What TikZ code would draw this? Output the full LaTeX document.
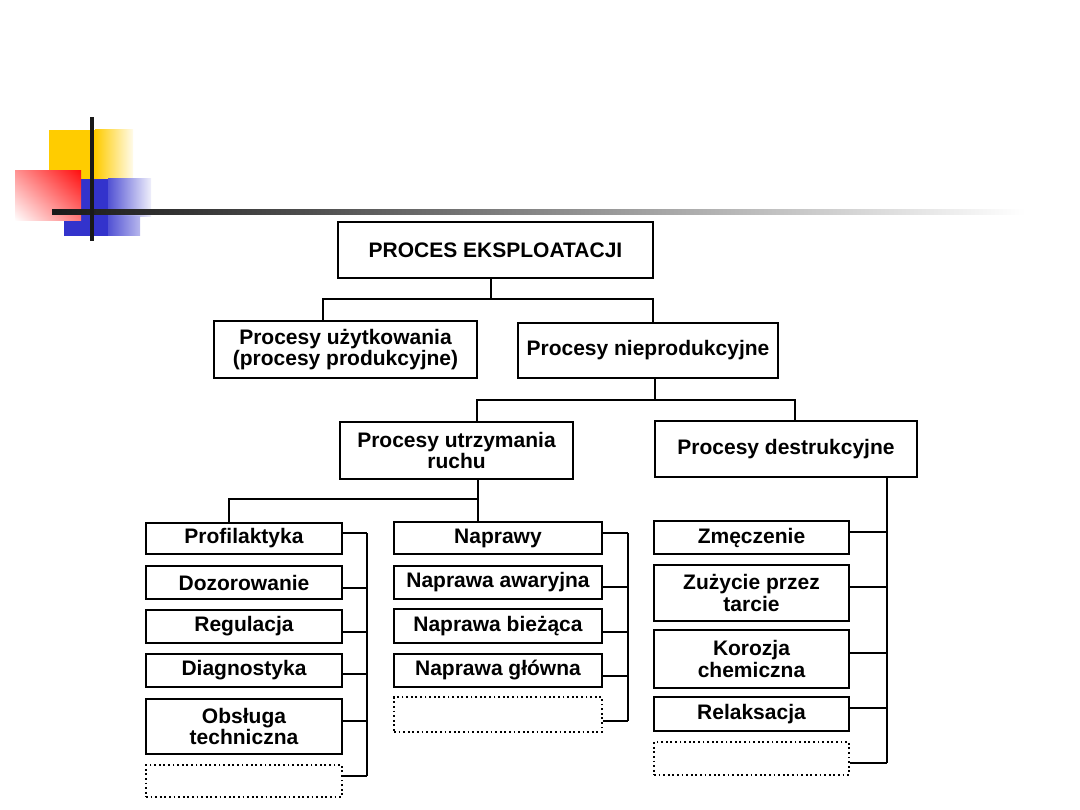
\documentclass[tikz,border=0pt]{standalone}
\usepackage{fontspec}
\setmainfont{Liberation Sans}
\usetikzlibrary{shadings}
\begin{document}
\begin{tikzpicture}[x=1pt,y=-1pt,
  box/.style={draw, line width=2.6pt, inner sep=0pt, align=center,
    font=\bfseries\fontsize{21}{21.5}\selectfont},
  dotbox/.style={draw, line width=1.5pt, dash pattern=on 1.8pt off 2.8pt, inner sep=0pt},
  conn/.style={line width=1.8pt}]
\useasboundingbox (0,0) rectangle (1080,810);
\definecolor{ylw}{HTML}{FFCC00}
\definecolor{blu}{HTML}{3333CC}
\definecolor{rd}{HTML}{FF1010}
% ---- decoration ----
\fill[ylw] (49,130) rectangle (95,180);
\shade[left color=ylw, right color=ylw!8] (95,130) rectangle (133,180);
\fill[blu] (64,179) rectangle (108,236);
\shade[left color=blu!85, right color=blu!8] (108,179) rectangle (151,217);
\shade[left color=blu!85, right color=blu!35] (108,217) rectangle (140,236);
\shade[upper right=rd, lower left=white, upper left=rd!45, lower right=rd!55] (15,171) rectangle (81,221);
\shade[left color=black!90, right color=black!70] (52,210) rectangle (300,215);
\shade[left color=black!70, right color=white] (300,210) rectangle (1025,215);
\fill[black!90] (90,117) rectangle (94,241);
% ---- nodes ----
\node[box, minimum width=315pt, minimum height=56pt] (top) at (495.5,250) {PROCES EKSPLOATACJI};
\node[box, minimum width=263pt, minimum height=57pt] (uz) at (345.5,349.5) {Procesy użytkowania\\(procesy produkcyjne)};
\node[box, minimum width=260pt, minimum height=55pt] (np) at (648,350.5) {Procesy nieprodukcyjne};
\node[box, minimum width=233pt, minimum height=57pt] (ut) at (456.5,450.5) {Procesy utrzymania\\ruchu};
\node[box, minimum width=262pt, minimum height=56pt] (de) at (786,449) {Procesy destrukcyjne};
% left column
\node[box, minimum width=196pt, minimum height=31pt] (prof) at (244,538.5) {Profilaktyka};
\node[box, minimum width=196pt, minimum height=33pt] (dozo) at (244,582.5) {Dozorowanie};
\node[box, minimum width=196pt, minimum height=33pt] (regu) at (244,626.5) {Regulacja};
\node[box, minimum width=196pt, minimum height=33pt] (diag) at (244,670.5) {Diagnostyka};
\node[box, minimum width=196pt, minimum height=55pt] (obsl) at (244,726.5) {Obsługa\\techniczna};
\node[dotbox, minimum width=196pt, minimum height=32pt] (dot1) at (244,781) {};
% middle column
\node[box, minimum width=208pt, minimum height=32pt] (napr) at (498,538) {Naprawy};
\node[box, minimum width=208pt, minimum height=33pt] (awar) at (498,582.5) {Naprawa awaryjna};
\node[box, minimum width=208pt, minimum height=34pt] (biez) at (498,626) {Naprawa bieżąca};
\node[box, minimum width=208pt, minimum height=33pt] (glow) at (498,670.5) {Naprawa główna};
\node[dotbox, minimum width=208pt, minimum height=35pt] (dot2) at (498,714.5) {};
% right column
\node[box, minimum width=195pt, minimum height=33pt] (zmec) at (751.5,537.5) {Zmęczenie};
\node[box, minimum width=195pt, minimum height=56pt] (zuz) at (751.5,593) {Zużycie przez\\tarcie};
\node[box, minimum width=195pt, minimum height=58pt] (koro) at (751.5,659) {Korozja\\chemiczna};
\node[box, minimum width=195pt, minimum height=34pt] (rela) at (751.5,714) {Relaksacja};
\node[dotbox, minimum width=195pt, minimum height=33pt] (dot3) at (751.5,758.5) {};
% ---- tree connectors ----
\coordinate (j1) at (491,299);
\coordinate (j2) at (655,400);
\coordinate (j3) at (478,499);
\draw[conn] (top.south -| j1) -- (j1);
\draw[conn] ([xshift=-22.5pt]uz.north) |- (j1) -| ([xshift=5pt]np.north);
\draw[conn] (np.south -| j2) -- (j2);
\draw[conn] ([xshift=20.5pt]ut.north) |- (j2) -| ([xshift=9pt]de.north);
\draw[conn] (ut.south -| j3) -- (j3);
\draw[conn] ([xshift=-15pt]prof.north) |- (j3) -| ([xshift=-20pt]napr.north);
% ---- brackets ----
\coordinate (bL) at (367,0);
\coordinate (bM) at (628,0);
\coordinate (bR) at (887,0);
\foreach \n/\s in {prof/5.5, dozo/-5.5, regu/-5.5, diag/-3.5, obsl/5.5, dot1/5}
  \draw[conn] ([yshift=\s pt]\n.east) coordinate (t) -- (t -| bL);
\draw[conn] ([yshift=5.5pt]prof.east -| bL) -- ([yshift=5pt]dot1.east -| bL);
\foreach \n/\s in {napr/5, awar/-4.5, biez/-6, glow/-5.5, dot2/-6.5}
  \draw[conn] ([yshift=\s pt]\n.east) coordinate (t) -- (t -| bM);
\draw[conn] ([yshift=5pt]napr.east -| bM) -- ([yshift=-6.5pt]dot2.east -| bM);
\foreach \n/\s in {zmec/5.5, zuz/6, koro/6, rela/6, dot3/-4.5}
  \draw[conn] ([yshift=\s pt]\n.east) coordinate (t) -- (t -| bR);
\draw[conn] (de.south -| bR) -- ([yshift=-4.5pt]dot3.east -| bR);
\end{tikzpicture}
\end{document}
